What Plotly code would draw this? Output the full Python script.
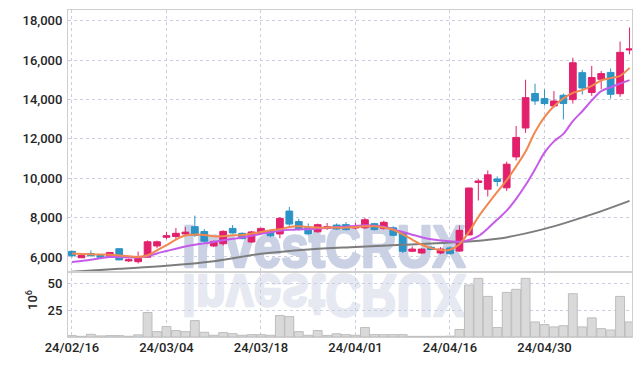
import plotly.graph_objects as go

dates = [
    "24/02/16", "24/02/19", "24/02/20", "24/02/21", "24/02/22", "24/02/23",
    "24/02/26", "24/02/27", "24/02/28", "24/02/29", "24/03/04", "24/03/05",
    "24/03/06", "24/03/07", "24/03/08", "24/03/11", "24/03/12", "24/03/13",
    "24/03/14", "24/03/15", "24/03/18", "24/03/19", "24/03/20", "24/03/21",
    "24/03/22", "24/03/25", "24/03/26", "24/03/27", "24/03/28", "24/03/29",
    "24/04/01", "24/04/02", "24/04/03", "24/04/04", "24/04/05", "24/04/08",
    "24/04/09", "24/04/11", "24/04/12", "24/04/15", "24/04/16", "24/04/17",
    "24/04/18", "24/04/19", "24/04/22", "24/04/23", "24/04/24", "24/04/25",
    "24/04/26", "24/04/29", "24/04/30", "24/05/02", "24/05/03", "24/05/07",
    "24/05/08", "24/05/09", "24/05/10", "24/05/13", "24/05/14", "24/05/16",
]

opens = [6285, 5960, 6170, 6080, 6040, 6420, 5800, 5760, 5990, 6560,
         7000, 7040, 7170, 7540, 7290, 6560, 6670, 7450, 7200, 6760,
         7190, 7300, 7170, 8330, 7800, 7520, 7280, 7440, 7620, 7640,
         7470, 7480, 7690, 7440, 7480, 7230, 6290, 6200, 6490, 6200,
         6460, 6300, 7120, 9780, 9440, 9960, 9510, 11080, 12550, 14300,
         14040, 13670, 14210, 13990, 15360, 14350, 15020, 15370, 14290, 16510]
highs = [6320, 6080, 6330, 6090, 6250, 6430, 5920, 6270, 6840, 6830,
         7280, 7470, 7520, 8100, 7420, 6840, 7350, 7620, 7250, 7320,
         7490, 7330, 8030, 8540, 7940, 7700, 7690, 7720, 7700, 7770,
         7730, 7990, 7730, 7840, 7560, 7310, 6530, 6440, 6570, 6500,
         6540, 7600, 9520, 9950, 10390, 10090, 10840, 12650, 15000, 14800,
         14510, 14430, 14300, 16120, 15500, 15700, 15440, 15570, 16940, 17650]
lows = [5980, 5950, 6010, 5960, 6030, 5840, 5740, 5670, 5970, 6440,
        6900, 6920, 7050, 7020, 6720, 6500, 6580, 7180, 6900, 6720,
        7150, 7000, 6950, 7580, 7350, 7100, 7230, 7380, 7380, 7340,
        7400, 7420, 7340, 7380, 7050, 6200, 6240, 6170, 6340, 6140,
        6120, 6250, 7100, 8870, 9070, 9590, 9350, 10900, 12300, 13720,
        13690, 13580, 12980, 13790, 14240, 14180, 14520, 14040, 14130, 16290]
closes = [6065, 6070, 6065, 5980, 6230, 5850, 5860, 5920, 6770, 6770,
          7080, 7200, 7260, 7100, 6800, 6790, 7300, 7220, 6930, 7270,
          7450, 7080, 7960, 7670, 7420, 7170, 7640, 7540, 7420, 7390,
          7550, 7890, 7390, 7760, 7100, 6290, 6400, 6400, 6380, 6400,
          6170, 7350, 9500, 9860, 10170, 9830, 10710, 12070, 14090, 13920,
          13790, 13920, 13790, 15860, 14580, 15110, 15310, 14260, 16390, 16560]

volume_m = [1.3, 0.6, 2.5, 1.0, 1.3, 1.3, 0.7, 2.0, 22.8, 5.0,
            9.7, 6.0, 5.0, 15.3, 4.4, 1.6, 4.1, 3.1, 1.6, 2.2,
            2.2, 1.6, 20.0, 19.0, 5.0, 1.6, 6.0, 1.5, 3.0, 2.2,
            1.6, 8.8, 2.2, 2.2, 2.2, 2.2, 0.6, 0.6, 0.6, 0.6,
            0.8, 7.0, 48.4, 54.6, 37.8, 8.8, 41.5, 44.4, 54.6, 14.0,
            11.6, 9.4, 10.5, 40.3, 9.4, 17.8, 7.8, 6.5, 37.8, 14.0]

ma_short = [6170, 6150, 6135, 6125, 6115, 6080, 6035, 6000, 6085, 6340,
            6595, 6880, 7085, 7135, 7120, 7050, 7050, 7100, 7120, 7190,
            7270, 7355, 7405, 7525, 7560, 7525, 7490, 7490, 7490, 7490,
            7525, 7560, 7560, 7500, 7380, 7150, 6880, 6620, 6450, 6350,
            6370, 6650, 7270, 8030, 8680, 9300, 9900, 10600, 11350, 12350,
            13100, 13650, 14050, 14330, 14470, 14690, 14960, 15080, 15200, 15600]

ma_mid = [5745, 5800, 5860, 5930, 6000, 5990, 5975, 5975, 6050, 6180,
          6300, 6420, 6530, 6620, 6690, 6760, 6850, 6920, 6990, 7080,
          7170, 7260, 7330, 7380, 7400, 7410, 7440, 7480, 7510, 7540,
          7580, 7610, 7590, 7530, 7400, 7270, 7130, 7000, 6900, 6840,
          6800, 6770, 6860, 7060, 7450, 7900, 8350, 8950, 9650, 10450,
          11300, 11870, 12250, 12900, 13400, 13950, 14420, 14620, 14800, 14980]

ma_long_dates = ["24/02/16", "24/02/23", "24/03/04", "24/03/11", "24/03/18",
                 "24/03/25", "24/04/01", "24/04/08", "24/04/16", "24/04/23",
                 "24/04/30", "24/05/09", "24/05/16"]
ma_long = [5245, 5395, 5550, 5780, 6160, 6385, 6510, 6615, 6730, 6920,
           7425, 8160, 8850]

tick_labels = ["24/02/16", "24/03/04", "24/03/18", "24/04/01", "24/04/16", "24/04/30"]
price_ticks = [6000, 8000, 10000, 12000, 14000, 16000, 18000]
volume_ticks = [25, 50]

UP = "#E2206B"
DOWN = "#2C93C6"
GRID = "#c9cee0"
BORDER = "#cfcfcf"
FONT = "Roboto, sans-serif"
TICKFONT = dict(family=FONT, size=13, color="#262626", weight=500)

fig = go.Figure()

fig.add_trace(go.Candlestick(
    x=dates, open=opens, high=highs, low=lows, close=closes,
    increasing=dict(line=dict(color=UP, width=1), fillcolor=UP),
    decreasing=dict(line=dict(color=DOWN, width=1), fillcolor=DOWN),
    whiskerwidth=0, xaxis="x", yaxis="y", showlegend=False, hoverinfo="skip",
))

fig.add_trace(go.Scatter(x=ma_long_dates, y=ma_long, mode="lines",
                         line=dict(color="#7d7d7d", width=2, shape="spline"),
                         xaxis="x", yaxis="y", showlegend=False, hoverinfo="skip"))
fig.add_trace(go.Scatter(x=dates, y=ma_mid, mode="lines",
                         line=dict(color="#C65BEA", width=2, shape="spline"),
                         xaxis="x", yaxis="y", showlegend=False, hoverinfo="skip"))
fig.add_trace(go.Scatter(x=dates, y=ma_short, mode="lines",
                         line=dict(color="#F0884F", width=2, shape="spline"),
                         xaxis="x", yaxis="y", showlegend=False, hoverinfo="skip"))

fig.add_trace(go.Bar(x=dates, y=volume_m, marker=dict(color="#d9d9d9", line=dict(color="#bdbdbd", width=1)),
                     xaxis="x2", yaxis="y2", showlegend=False, hoverinfo="skip"))

xr = [-0.42, 59.26]
common_x = dict(type="category", categoryorder="array", categoryarray=dates, range=xr,
                tickmode="array", tickvals=tick_labels, ticktext=tick_labels,
                showgrid=True, gridcolor=GRID, griddash="dot", gridwidth=1, automargin=False,
                zeroline=False, showline=True, linecolor=BORDER, linewidth=1, mirror=True)

fig.update_layout(
    width=642, height=366,
    margin=dict(l=68, r=10, t=10, b=29, autoexpand=False),
    paper_bgcolor="white", plot_bgcolor="rgba(0,0,0,0)",
    bargap=0.06, boxgap=0.05, boxgroupgap=0.25,
    font=dict(family=FONT, size=13, color="#262626"),
    xaxis=dict(common_x, anchor="y", showticklabels=False, rangeslider=dict(visible=False)),
    xaxis2=dict(common_x, anchor="y2", showticklabels=True, ticks="", ticklabelstandoff=-2,
                tickfont=TICKFONT),
    yaxis=dict(domain=[0.199, 1], range=[5240, 18540], tickvals=price_ticks, tickformat=",",
               showgrid=True, gridcolor=GRID, griddash="dot", zeroline=False, automargin=False,
               showline=True, linecolor=BORDER, mirror=True, ticks="", ticklabelstandoff=2,
               tickfont=TICKFONT),
    yaxis2=dict(domain=[0, 0.199], range=[0, 60.6], tickvals=volume_ticks,
                showgrid=True, gridcolor=GRID, griddash="dot", zeroline=False, automargin=False,
                showline=True, linecolor=BORDER, mirror=True, ticks="", ticklabelstandoff=2,
                tickfont=TICKFONT),
    annotations=[
        dict(text="InvestCRUX", xref="paper", yref="paper", x=0.454, y=0.274,
             xanchor="center", yanchor="middle", showarrow=False,
             font=dict(family="Liberation Sans, Arial, sans-serif", size=59, color="#cad1e4", weight="bold")),
        dict(text="InvestCRUX", xref="paper", yref="paper", x=0.454, y=0.128,
             xanchor="center", yanchor="middle", showarrow=False,
             font=dict(family="Liberation Sans, Arial, sans-serif", size=59, color="#e6e9f1", weight="bold")),
        dict(text="10<sup>6</sup>", xref="paper", yref="paper", x=-0.064, y=0.113,
             xanchor="center", yanchor="middle", showarrow=False, textangle=-90,
             font=dict(family=FONT, size=13, color="#262626", weight=500)),
    ],
)

post = """
document.documentElement.style.margin = '0';
document.body.style.margin = '0';
document.body.style.padding = '0';
var gd = document.getElementById('{plot_id}');
var below = gd.querySelector('.layer-below');
gd.querySelectorAll('g.annotation').forEach(function(a){
  var idx = a.getAttribute('data-index');
  var t = a.querySelector('text');
  if (!t || (idx !== '0' && idx !== '1')) return;
  var col = (idx === '1') ? '#e6e9f1' : '#cad1e4';
  t.style.fontWeight = '700';
  t.style.stroke = col;
  t.style.strokeWidth = '2.5px';
  t.style.strokeLinejoin = 'round';
  t.style.transformBox = 'fill-box';
  t.style.transformOrigin = 'center';
  t.style.transform = (idx === '1') ? 'scale(0.84,-1)' : 'scale(0.84,1)';
  if (below) below.appendChild(a);
});
"""

fig.write_html("out.html", post_script=post, config={"displayModeBar": False})
